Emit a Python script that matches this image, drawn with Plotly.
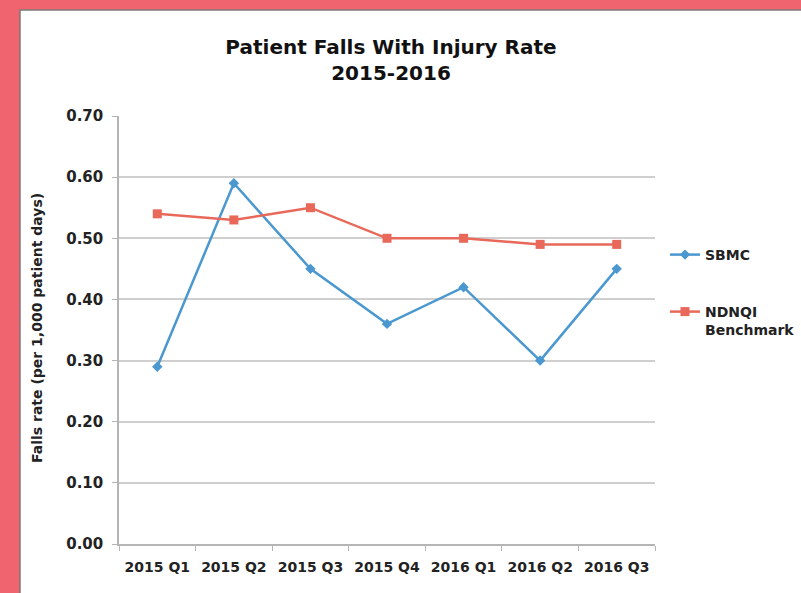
import plotly.graph_objects as go

categories = ["2015 Q1", "2015 Q2", "2015 Q3", "2015 Q4", "2016 Q1", "2016 Q2", "2016 Q3"]
sbmc = [0.29, 0.59, 0.45, 0.36, 0.42, 0.30, 0.45]
ndnqi = [0.54, 0.53, 0.55, 0.50, 0.50, 0.49, 0.49]

W, H = 801, 593
L, R, T, B = 119, 146, 116, 49
pw, ph = W - L - R, H - T - B

def px_x(p):
    return (p - L) / pw

def px_y(p):
    return (H - B - p) / ph

FONT = "DejaVu Sans"
BLUE = "#4a98cf"
RED = "#e8685a"
TXT = "#222222"

fig = go.Figure()
fig.add_trace(go.Scatter(
    x=categories, y=sbmc, name="SBMC", mode="lines+markers",
    line=dict(color=BLUE, width=2.5),
    marker=dict(symbol="diamond", size=8, color=BLUE),
    legend="legend",
))
fig.add_trace(go.Scatter(
    x=categories, y=ndnqi, name="NDNQI<br>Benchmark", mode="lines+markers",
    line=dict(color=RED, width=2.5),
    marker=dict(symbol="square", size=9, color=RED),
    legend="legend2",
))

fig.update_layout(
    width=W, height=H,
    margin=dict(l=L, r=R, t=T, b=B, autoexpand=False),
    paper_bgcolor="#f0646f",
    plot_bgcolor="white",
    showlegend=True,
    font=dict(family=FONT, size=14, color=TXT, weight="bold"),
    title=dict(
        text="Patient Falls With Injury Rate<br>2015-2016",
        x=px_x(391), xref="paper", xanchor="center",
        y=1 - 54 / H, yref="container", yanchor="top",
        font=dict(family=FONT, size=20, color="#111111", weight="bold"),
    ),
    xaxis=dict(
        type="category", range=[-0.5, 6.5],
        showgrid=False, showline=True, linecolor="#b5b5b5", linewidth=1.5,
        ticks="outside", tickson="boundaries", ticklen=5, tickcolor="#b5b5b5",
        tickangle=0, ticklabelstandoff=9,
        tickfont=dict(family=FONT, size=14, color=TXT, weight="bold"),
        fixedrange=True,
    ),
    yaxis=dict(
        range=[0, 0.7], dtick=0.1, tickformat=".2f",
        showgrid=True, gridcolor="#cfcfcf", gridwidth=1.5,
        showline=True, linecolor="#b5b5b5", linewidth=1.5,
        ticks="outside", ticklen=5, tickcolor="#b5b5b5",
        ticklabelstandoff=6,
        tickfont=dict(family=FONT, size=15, color=TXT, weight="bold"),
        zeroline=False,
    ),
    legend=dict(
        x=px_x(665), y=px_y(255), xanchor="left", yanchor="middle",
        bgcolor="rgba(0,0,0,0)", font=dict(family=FONT, size=14, color=TXT, weight="bold"),
        itemwidth=30,
    ),
    legend2=dict(
        x=px_x(665), y=px_y(296), xanchor="left", yanchor="top", valign="top",
        bgcolor="rgba(0,0,0,0)", font=dict(family=FONT, size=14, color=TXT, weight="bold"),
        itemwidth=30,
    ),
    shapes=[dict(
        type="rect", xref="paper", yref="paper", layer="below",
        x0=px_x(20), x1=px_x(W + 5), y0=px_y(H + 5), y1=px_y(10),
        fillcolor="white", line=dict(color="#7a7a7a", width=1.5),
    )],
    annotations=[dict(
        text="Falls rate (per 1,000 patient days)", textangle=-90,
        xref="paper", yref="paper", x=px_x(37), y=px_y(328),
        xanchor="center", yanchor="middle", showarrow=False,
        font=dict(family=FONT, size=14, color=TXT, weight="bold"),
    )],
)

fig.write_html(
    "out.html",
    config={"displayModeBar": False},
    post_script="document.body.style.margin='0';document.body.style.overflow='hidden';",
)
